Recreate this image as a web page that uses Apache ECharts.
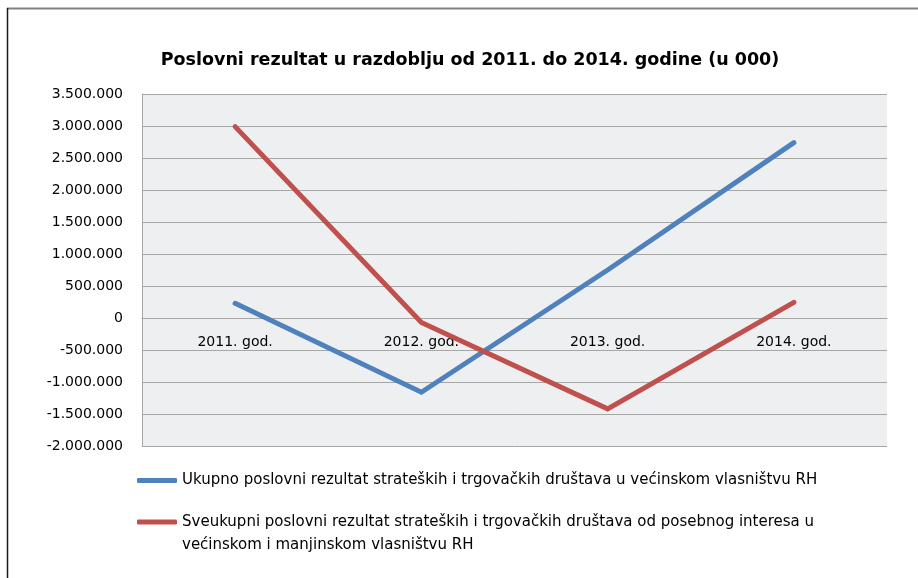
<!DOCTYPE html>
<html>
<head>
<meta charset="utf-8">
<script src="https://cdn.jsdelivr.net/npm/echarts@6/dist/echarts.min.js"></script>
<style>
html,body{margin:0;padding:0;background:#fff;}
#chart{width:918px;height:578px;}
</style>
</head>
<body>
<div id="chart"></div>
<script>
const titleText = 'Poslovni rezultat u razdoblju od 2011. do 2014. godine (u 000)';
const categories = ['2011. god.', '2012. god.', '2013. god.', '2014. god.'];
const seriesNames = [
  'Ukupno poslovni rezultat strateških i trgovačkih društava u većinskom vlasništvu RH',
  'Sveukupni poslovni rezultat strateških i trgovačkih društava od posebnog interesa u većinskom i manjinskom vlasništvu RH'
];
const legendLabels = [
  'Ukupno poslovni rezultat strateških i trgovačkih društava u većinskom vlasništvu RH',
  '\nSveukupni poslovni rezultat strateških i trgovačkih društava od posebnog interesa u\nvećinskom i manjinskom vlasništvu RH'
];
const ukupno = [230000, -1160000, 750000, 2740000];
const sveukupni = [2990000, -70000, -1420000, 245000];
const yMin = -2000000, yMax = 3500000, yStep = 500000;

function fmt(v) {
  if (v === 0) return '0';
  const s = Math.abs(v).toString().replace(/\B(?=(\d{3})+(?!\d))/g, '.');
  return (v < 0 ? '-' : '') + s;
}

const FONT = 'DejaVu Sans';
const chart = echarts.init(document.getElementById('chart'), null, {renderer: 'canvas'});
chart.setOption({
  animation: false,
  backgroundColor: '#ffffff',
  title: {
    text: titleText,
    left: 465,
    top: 46,
    textAlign: 'center',
    textStyle: {fontFamily: FONT, fontSize: 17.5, fontWeight: 'bold', color: '#000'}
  },
  graphic: [
    {type: 'line', shape: {x1: 7, y1: 8.5, x2: 918, y2: 8.5}, style: {stroke: '#808080', lineWidth: 2}},
    {type: 'line', shape: {x1: 7.5, y1: 8, x2: 7.5, y2: 578}, style: {stroke: '#1a1a1a', lineWidth: 1.5}}
  ],
  grid: {left: 142, right: 31, top: 94, bottom: 132, show: true, backgroundColor: '#eeeff1', borderWidth: 0},
  xAxis: {
    type: 'category',
    data: categories,
    boundaryGap: true,
    position: 'bottom',
    offset: -128,
    axisLine: {show: true, onZero: false, lineStyle: {color: '#a6a6a6', width: 1}},
    axisTick: {show: false},
    axisLabel: {fontFamily: FONT, fontSize: 14, color: '#000', margin: 17},
    splitLine: {show: false}
  },
  yAxis: {
    type: 'value',
    min: yMin, max: yMax, interval: yStep,
    axisLine: {show: true, lineStyle: {color: '#a6a6a6', width: 1}},
    axisTick: {show: false},
    axisLabel: {fontFamily: FONT, fontSize: 14, color: '#000', margin: 19, formatter: fmt},
    splitLine: {show: true, lineStyle: {color: '#a6a6a6', width: 1}}
  },
  legend: [
    {
      data: [{name: seriesNames[0]}],
      left: 137, top: 473, padding: 0,
      icon: 'roundRect', itemWidth: 40, itemHeight: 5,
      formatter: () => legendLabels[0],
      textStyle: {fontFamily: FONT, fontSize: 15, color: '#000'}
    },
    {
      data: [{name: seriesNames[1]}],
      left: 137, top: 487.5, padding: 0,
      icon: 'roundRect', itemWidth: 40, itemHeight: 5,
      formatter: () => legendLabels[1],
      textStyle: {fontFamily: FONT, fontSize: 15, color: '#000', lineHeight: 23}
    }
  ],
  series: [
    {
      name: seriesNames[0], type: 'line', data: ukupno, symbol: 'none',
      itemStyle: {color: '#4f81bd'},
      lineStyle: {color: '#4f81bd', width: 5, cap: 'round', join: 'miter'}
    },
    {
      name: seriesNames[1], type: 'line', data: sveukupni, symbol: 'none',
      itemStyle: {color: '#c0504d'},
      lineStyle: {color: '#c0504d', width: 5, cap: 'round', join: 'miter'}
    }
  ]
});
</script>
</body>
</html>
